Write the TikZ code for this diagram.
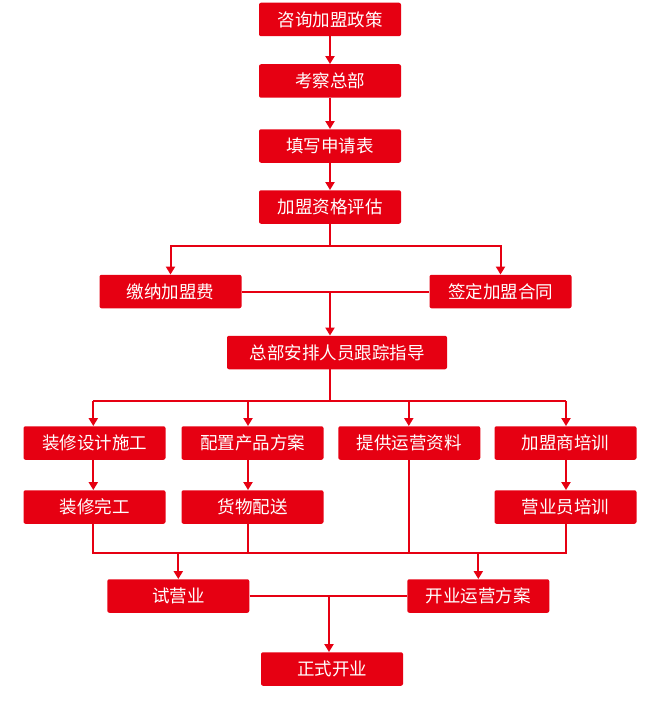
\documentclass[tikz,border=0pt]{standalone}
\usepackage{fontspec}
\setmainfont{Noto Sans CJK SC}
\usepackage{tikz}
\usepackage{xcolor}
\usetikzlibrary{calc}
\usetikzlibrary{arrows.meta}
\definecolor{boxred}{HTML}{E60012}

\begin{document}
\begin{tikzpicture}[x=1pt,y=-1pt,
	stepbox/.style={fill=boxred,rounded corners=2pt,text=white,minimum width=142pt,minimum height=33.5pt,inner sep=0pt,font=\fontsize{17.5}{19}\selectfont},
	link/.style={draw=boxred,line width=2pt},
	arr/.style={link,-{Triangle[width=9pt,length=8pt]}}]
\useasboundingbox (0,0) rectangle (661,706);

% main column
\node[stepbox] (zixun) at (330,19.5) {咨询加盟政策};
\node[stepbox] (kaocha) at (330,81) {考察总部};
\node[stepbox] (tianxie) at (330,146) {填写申请表};
\node[stepbox] (pinggu) at (330,207) {加盟资格评估};
\node[stepbox] (jiaona) at (170.5,291.5) {缴纳加盟费};
\node[stepbox] (qianding) at (500.5,291.5) {签定加盟合同};
\node[stepbox,minimum width=220pt] (anpai) at (337,352.5) {总部安排人员跟踪指导};

% four branches
\node[stepbox] (zhuangxiu) at (94.5,443) {装修设计施工};
\node[stepbox] (peizhi) at (252.5,443) {配置产品方案};
\node[stepbox] (tigong) at (409.3,443) {提供运营资料};
\node[stepbox] (peixun) at (565.5,443) {加盟商培训};
\node[stepbox] (wangong) at (94.5,507) {装修完工};
\node[stepbox] (huowu) at (252.5,507) {货物配送};
\node[stepbox] (yingye) at (565.5,507) {营业员培训};

% opening
\node[stepbox] (shiying) at (178.3,596) {试营业};
\node[stepbox] (fangan) at (478.3,596) {开业运营方案};
\node[stepbox] (kaiye) at (332,669) {正式开业};

\coordinate (split1) at (330,246);
\coordinate (meet1) at (330,291.5);
\coordinate (split2) at (330,401);
\coordinate (meet2) at (330,552.7);
\coordinate (meet3) at (329,596);

\draw[arr] (zixun) -- (kaocha);
\draw[arr] (kaocha) -- (tianxie);
\draw[arr] (tianxie) -- (pinggu);
\draw[link] (pinggu) -- (split1);
\draw[arr] (split1) -| (jiaona);
\draw[arr] (split1) -| (qianding);
\draw[link] (jiaona) -- (qianding);
\draw[arr] (meet1) -- (meet1 |- anpai.north);

\draw[link] (split2 |- anpai.south) -- (split2);
\draw[link] (93.3,401) -- (566,401);
\foreach \x/\n in {93.3/zhuangxiu,248/peizhi,408.8/tigong,566/peixun}
{
	\draw[arr] (\x,401) -- (\x,0 |- \n.north);
}
\draw[arr] (93.3,0 |- zhuangxiu.south) -- (93.3,0 |- wangong.north);
\draw[arr] (248,0 |- peizhi.south) -- (248,0 |- huowu.north);
\draw[arr] (566,0 |- peixun.south) -- (566,0 |- yingye.north);

\foreach \x/\n in {93.3/wangong,248/huowu,408.8/tigong,566/yingye}
{
	\draw[link] (\x,0 |- \n.south) -- (\x,552.7);
}
\draw[link] (92.3,552.7) -- (567,552.7);
\draw[arr] (meet2 -| shiying) -- (shiying);
\draw[arr] (meet2 -| fangan) -- (fangan);
\draw[link] (shiying) -- (fangan);
\draw[arr] (meet3) -- (meet3 |- kaiye.north);
\end{tikzpicture}
\end{document}
